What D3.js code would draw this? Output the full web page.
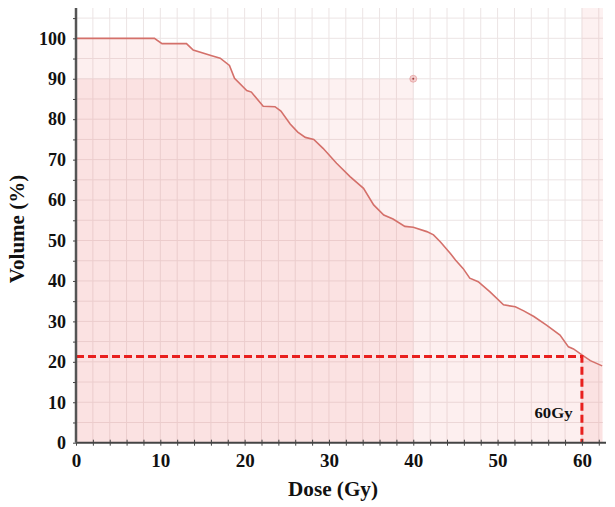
<!DOCTYPE html>
<html><head><meta charset="utf-8">
<script src="https://cdn.jsdelivr.net/npm/d3@7"></script>
<style>body{margin:0;background:#fff;} svg{display:block;}</style>
</head><body>
<svg id="c" width="615" height="507"></svg>
<script>
const dose = [0, 9.3, 10.2, 13.1, 13.9, 16.1, 17.1, 18.2, 18.8, 20.25, 20.8, 22.2, 23.6, 24.3, 25.4, 26.3, 27.2, 28.2, 29.3, 30.9, 32.5, 34.1, 35.3, 36.5, 37.6, 39.0, 40.0, 41.6, 42.4, 43.2, 44.4, 45.0, 45.9, 46.7, 47.7, 49.1, 50.7, 52.1, 53.1, 54.3, 55.8, 57.4, 58.4, 59.0, 60.0, 61.0, 62.4];
const volume = [100, 100, 98.7, 98.7, 97.1, 95.7, 95.1, 93.3, 90.1, 87.1, 86.7, 83.2, 83.1, 82.0, 78.8, 76.8, 75.5, 75.0, 72.8, 69.1, 65.8, 62.9, 58.8, 56.3, 55.3, 53.5, 53.3, 52.2, 51.4, 49.7, 46.8, 45.2, 43.1, 40.7, 39.8, 37.3, 34.1, 33.6, 32.6, 31.2, 29.1, 26.6, 23.7, 23.2, 21.7, 20.3, 19.0];
const xTicks = [0, 10, 20, 30, 40, 50, 60];
const yTicks = [0, 10, 20, 30, 40, 50, 60, 70, 80, 90, 100];
const constraintDose = 40, constraintVol = 90;
const refDose = 60, refVol = 21.3;
const bandDose = [60, 62.5];
const refLabel = "60Gy";

const svg = d3.select("#c");
const x = d3.scaleLinear().domain([0, 62.5]).range([76, 603]);
const y = d3.scaleLinear().domain([0, 107.5]).range([442.7, 8]);
const data = dose.map((d, i) => ({d, v: volume[i]}));
const font = "'Liberation Serif', 'Times New Roman', serif";

// grid
const g = svg.append("g");
g.selectAll(".gx").data(d3.range(2, 63, 2)).join("line")
  .attr("x1", d => x(d)).attr("x2", d => x(d)).attr("y1", y(0)).attr("y2", y(107.5))
  .attr("stroke", "#ece4e4").attr("stroke-width", 1);
g.selectAll(".gy").data(d3.range(5, 107, 5)).join("line")
  .attr("x1", x(0)).attr("x2", x(62.5)).attr("y1", d => y(d)).attr("y2", d => y(d))
  .attr("stroke", "#ece4e4").attr("stroke-width", 1);

// constraint rect
svg.append("rect").attr("x", x(0)).attr("y", y(constraintVol))
  .attr("width", x(constraintDose) - x(0)).attr("height", y(0) - y(constraintVol))
  .attr("fill", "rgba(235,120,120,0.10)");
// band
svg.append("rect").attr("x", x(bandDose[0])).attr("y", y(107.5))
  .attr("width", x(bandDose[1]) - x(bandDose[0])).attr("height", y(0) - y(107.5))
  .attr("fill", "rgba(235,120,120,0.10)");

// area under curve
svg.append("path").datum(data)
  .attr("d", d3.area().x(p => x(p.d)).y0(y(0)).y1(p => y(p.v)))
  .attr("fill", "rgba(235,120,120,0.12)");
svg.append("path").datum(data)
  .attr("d", d3.line().x(p => x(p.d)).y(p => y(p.v)))
  .attr("fill", "none").attr("stroke", "#d4706a").attr("stroke-width", 1.6);

// reference dashed
svg.append("path")
  .attr("d", `M${x(0)},${y(refVol)}H${x(refDose)}V${y(0)}`)
  .attr("fill", "none").attr("stroke", "#e8201e").attr("stroke-width", 3)
  .attr("stroke-dasharray", "8,4");

// constraint marker
svg.append("circle").attr("cx", x(constraintDose)).attr("cy", y(constraintVol)).attr("r", 3.5)
  .attr("fill", "rgba(230,130,130,0.35)").attr("stroke", "rgba(220,130,130,0.6)").attr("stroke-width", 0.8);
svg.append("circle").attr("cx", x(constraintDose)).attr("cy", y(constraintVol)).attr("r", 1)
  .attr("fill", "#a04040");

// axes
const xa = svg.append("g").attr("transform", `translate(0,${y(0)})`)
  .call(d3.axisBottom(x).tickValues(d3.range(0, 63, 2)).tickSize(3).tickFormat(d => xTicks.includes(d) ? d : ""));
xa.select(".domain").attr("stroke", "#444").attr("stroke-width", 2).attr("d", `M${x(0)},0H${x(62.5)+3}`);
xa.selectAll(".tick line").attr("stroke", "#444").attr("y1", -3).attr("y2", 3);
xa.selectAll(".tick text").attr("font-family", font).attr("font-weight", "bold").attr("font-size", 19)
  .attr("fill", "#111").attr("dy", "0").attr("y", 24);

const ya = svg.append("g").attr("transform", `translate(${x(0)},0)`)
  .call(d3.axisLeft(y).tickValues(d3.range(0, 106, 5)).tickSize(3).tickFormat(d => yTicks.includes(d) ? d : ""));
ya.select(".domain").attr("stroke", "#555").attr("stroke-width", 2.5).attr("d", `M0,${y(0)}V${y(107.5)}`);
ya.selectAll(".tick line").attr("stroke", "#444");
ya.selectAll(".tick text").attr("font-family", font).attr("font-weight", "bold").attr("font-size", 18)
  .attr("fill", "#111").attr("x", -10);

// labels
svg.append("text").attr("x", 553.5).attr("y", 418).attr("text-anchor", "middle")
  .attr("font-family", font).attr("font-weight", "bold").attr("font-size", 15).attr("fill", "#111")
  .attr("textLength", 38).attr("lengthAdjust", "spacingAndGlyphs").text(refLabel);
svg.append("text").attr("x", 333).attr("y", 495.5).attr("text-anchor", "middle")
  .attr("font-family", font).attr("font-weight", "bold").attr("font-size", 21).attr("fill", "#111")
  .attr("textLength", 90).attr("lengthAdjust", "spacingAndGlyphs").text("Dose (Gy)");
svg.append("text").attr("transform", "translate(24,229) rotate(-90)").attr("text-anchor", "middle")
  .attr("font-family", font).attr("font-weight", "bold").attr("font-size", 21).attr("fill", "#111").text("Volume (%)");
</script>
</body></html>
